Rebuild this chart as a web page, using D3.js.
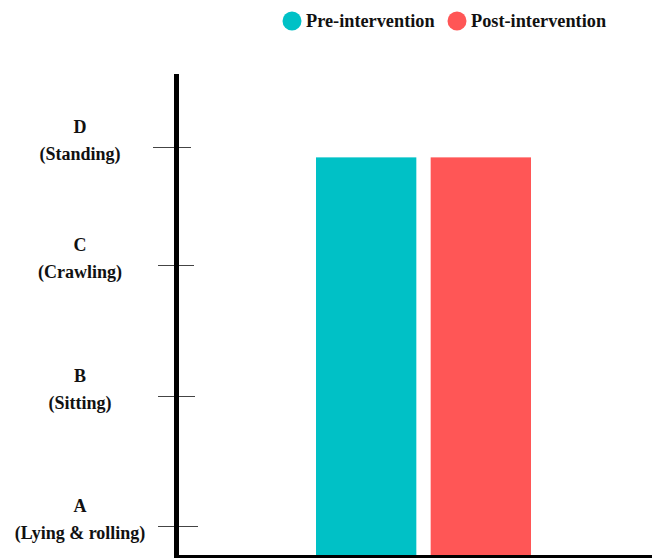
<!DOCTYPE html>
<html>
<head>
<meta charset="utf-8">
<script src="https://cdn.jsdelivr.net/npm/d3@7"></script>
<style>
  html, body { margin: 0; padding: 0; background: #fff; }
  svg { display: block; }
  text { font-family: "Liberation Serif", "Times New Roman", serif; font-weight: bold; fill: #111; }
</style>
</head>
<body>
<svg id="chart" width="652" height="559"></svg>
<script>
// ---- data ----
const series = ["Pre-intervention", "Post-intervention"];
const seriesColors = ["#00C1C6", "#FF5656"];
const values = [3.83, 3.83];             // motor level reached (A=1 ... D)
const levelCodes = ["A", "B", "C", "D"];
const levelNames = ["(Lying & rolling)", "(Sitting)", "(Crawling)", "(Standing)"];
const levelValues = [1, 2, 3, 3.91];

// ---- layout ----
const svg = d3.select("#chart");
const axisX = 176.5;
const yBottom = 556, yTop = 74;

const y = d3.scaleLinear().domain([0.77, 4.47]).range([yBottom, yTop]);
const x = d3.scaleBand().domain(series).range([316, 531]).paddingInner(0.125);

// bars
svg.selectAll("rect.bar").data(series).join("rect")
  .attr("class", "bar")
  .attr("x", d => x(d))
  .attr("width", x.bandwidth())
  .attr("y", (d, i) => y(values[i]))
  .attr("height", (d, i) => yBottom - y(values[i]))
  .attr("fill", (d, i) => seriesColors[i]);

// y-axis ticks
const tickLeft = [158, 158, 158, 153];
const tickRight = [198, 195, 194, 191];
levelValues.forEach((v, i) => {
  const ty = Math.round(y(v)) + 0.5;
  svg.append("line")
    .attr("x1", tickLeft[i]).attr("x2", tickRight[i])
    .attr("y1", ty).attr("y2", ty)
    .attr("stroke", "#444").attr("stroke-width", 1);
  const g = svg.append("text").attr("text-anchor", "middle").attr("font-size", 18);
  g.append("tspan").attr("x", 80).attr("y", ty - 14.5).text(levelCodes[i]);
  g.append("tspan").attr("x", 80).attr("y", ty + 12).text(levelNames[i]);
});

// axis lines
svg.append("line")
  .attr("x1", axisX).attr("x2", axisX)
  .attr("y1", yTop).attr("y2", 558)
  .attr("stroke", "#000").attr("stroke-width", 5);
svg.append("line")
  .attr("x1", axisX - 2.5).attr("x2", 652)
  .attr("y1", 556.5).attr("y2", 556.5)
  .attr("stroke", "#000").attr("stroke-width", 3);

// legend
const legendX = [292, 457];
series.forEach((s, i) => {
  svg.append("circle").attr("cx", legendX[i]).attr("cy", 21).attr("r", 9.5)
    .attr("fill", seriesColors[i]);
  svg.append("text").attr("x", legendX[i] + 14).attr("y", 27)
    .attr("font-size", 18.3).text(s);
});
</script>
</body>
</html>
